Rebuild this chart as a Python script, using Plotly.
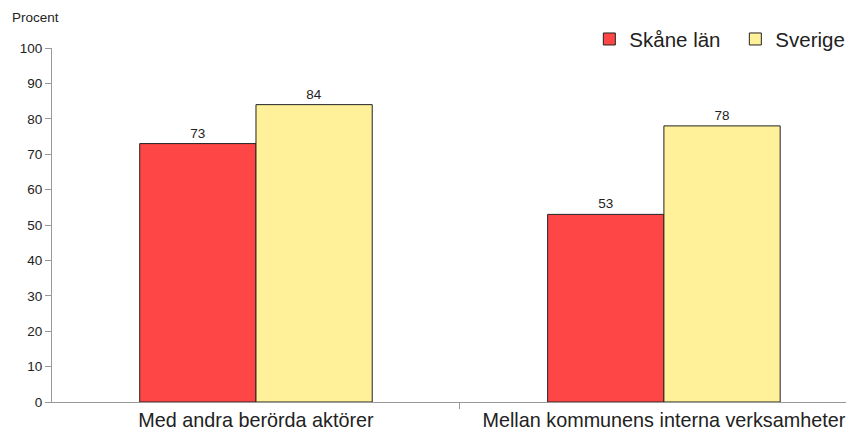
import plotly.graph_objects as go

categories = ["Med andra berörda aktörer", "Mellan kommunens interna verksamheter"]
series_names = ["Skåne län", "Sverige"]
skane = [73, 53]
sverige = [84, 78]
colors = ["#FF4646", "#FFF09A"]

x = [0, 1]
fig = go.Figure()
for name, vals, col in zip(series_names, [skane, sverige], colors):
    fig.add_trace(go.Bar(
        x=x, y=vals, name=name,
        marker=dict(color=col, line=dict(color="#222222", width=1)),
        text=[str(v) for v in vals], textposition="outside",
        textfont=dict(size=13.5, color="#222222", family="Liberation Sans, Arial"),
        cliponaxis=False,
    ))

# page body has an 8px default margin, so the figure is sized to fit the window
fig.update_layout(
    width=846, height=428,
    margin=dict(l=44, r=0, t=40, b=34, autoexpand=False),
    paper_bgcolor="white", plot_bgcolor="white",
    barmode="group", bargap=0.43, bargroupgap=0,
    font=dict(family="Liberation Sans, Arial", color="#222222"),
    showlegend=True,
    legend=dict(orientation="h", x=0.67, y=1.025, xanchor="left", yanchor="middle",
                font=dict(size=20.5), itemwidth=30, traceorder="normal",
                entrywidth=101, bgcolor="rgba(0,0,0,0)"),
    xaxis=dict(
        range=[-0.5, 1.466], tickvals=x, ticktext=categories,
        tickfont=dict(size=19.8), ticks="", showline=True, linecolor="#999999",
        linewidth=1, showgrid=False, zeroline=False,
        minor=dict(tickvals=[0.5], ticks="outside", ticklen=6, tickcolor="#999999", showgrid=False),
    ),
    yaxis=dict(
        range=[0, 100], dtick=10, ticks="outside", ticklen=6, tickcolor="#999999",
        showline=True, linecolor="#999999", linewidth=1, showgrid=False,
        zeroline=False, tickfont=dict(size=13.5),
    ),
    annotations=[dict(text="Procent", xref="paper", yref="paper", x=-0.052, y=1.085,
                      xanchor="left", yanchor="middle", showarrow=False,
                      font=dict(size=13.5))],
)

fig.write_html("out.html")
